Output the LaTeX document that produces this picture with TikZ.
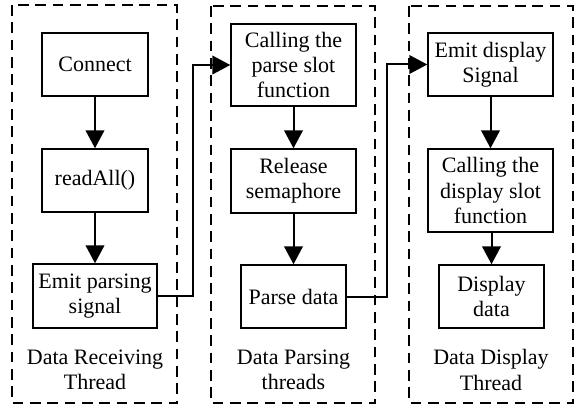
\documentclass[tikz,border=0pt]{standalone}
\usepackage{fontspec}
\setmainfont{Liberation Serif}
\usetikzlibrary{arrows.meta,calc}
\begin{document}
\begin{tikzpicture}[x=0.75pt,y=-0.75pt,
  box/.style={draw,line width=1.1pt,inner sep=0pt,align=center,
    font=\fontsize{16.5}{19}\selectfont},
  panel/.style={draw,line width=1.5pt,dash pattern=on 8pt off 5pt},
  lbl/.style={align=center,font=\fontsize{16.5}{19}\selectfont,inner sep=0pt},
  flow/.style={line width=1.5pt,-{Triangle[length=13.5pt,width=14pt]}},
  link/.style={line width=1.5pt}]
\useasboundingbox (0,0) rectangle (575,406);
% panels
\draw[panel] (12,5) rectangle (177,403);
\draw[panel] (211,6) rectangle (375,403);
\draw[panel] (409,6) rectangle (573,403);
% panel 1
\node[box,minimum width=106*0.75pt,minimum height=63*0.75pt] (c1) at (95,64.5) {Connect};
\node[box,minimum width=106*0.75pt,minimum height=63*0.75pt] (r1) at (95,180.5) {readAll()};
\node[box,minimum width=124*0.75pt,minimum height=64*0.75pt] (e1) at (95,296) {Emit parsing\\signal};
\node[lbl] (l1) at (95,370) {Data Receiving\\Thread};
% panel 2
\node[box,minimum width=125*0.75pt,minimum height=82*0.75pt] (p1) at (293.5,65) {Calling the\\parse slot\\function};
\node[box,minimum width=125*0.75pt,minimum height=64*0.75pt] (p2) at (293.5,181) {Release\\semaphore};
\node[box,minimum width=105*0.75pt,minimum height=63*0.75pt] (p3) at (293.5,296.5) {Parse data};
\node[lbl] (l2) at (293.5,370) {Data Parsing\\threads};
% panel 3
\node[box,minimum width=125*0.75pt,minimum height=63*0.75pt] (d1) at (490.5,64.5) {Emit display\\Signal};
\node[box,minimum width=125*0.75pt,minimum height=83*0.75pt] (d2) at (490.5,190.5) {Calling the\\display slot\\function};
\node[box,minimum width=105*0.75pt,minimum height=63*0.75pt] (d3) at (491.5,296.5) {Display\\data};
\node[lbl] (l3) at (491,370) {Data Display\\Thread};
% arrows
\draw[flow] (c1) -- (r1);
\draw[flow] (r1) -- (e1);
\draw[flow] (p1) -- (p2);
\draw[flow] (p2) -- (p3);
\draw[flow] (d1) -- (d2);
\draw[flow] (d2.south -| d3.north) -- (d3.north);
\coordinate (k1) at (193,0);
\coordinate (k2) at (387,0);
\draw[flow] (e1.east) -- (e1.east -| k1) -- (k1 |- p1.west) -- (p1.west);
\draw[flow] (p3.east) -- (p3.east -| k2) -- (k2 |- d1.west) -- (d1.west);
\end{tikzpicture}
\end{document}
